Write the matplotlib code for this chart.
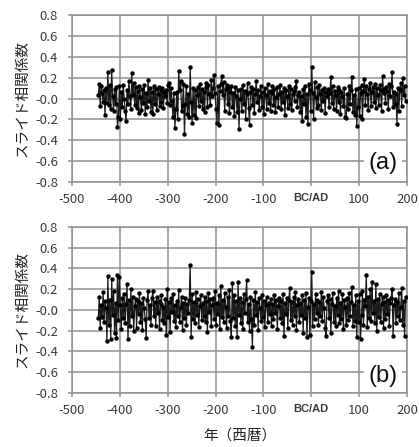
import numpy as np
import matplotlib
matplotlib.use('Agg')
import matplotlib.pyplot as plt

plt.rcParams['font.family'] = ['Noto Sans CJK JP', 'DejaVu Sans']

# 年 (西暦, 2年ごと)
years = np.arange(-445, 198, 2)

# (a) スライド相関係数
corr_a = [
    0.03, 0.14, -0.07, 0.12, 0.05, -0.03, 0.08, -0.16, 0.10, -0.04,
    0.25, -0.06, 0.13, -0.10, 0.27, 0.02, -0.12, 0.09, -0.05, 0.11,
    -0.27, -0.18, 0.12, -0.20, 0.06, -0.08, 0.13, 0.00, -0.12, -0.22,
    0.08, -0.05, 0.17, 0.02, -0.10, 0.24, 0.03, 0.15, -0.06, 0.11,
    -0.09, 0.07, -0.14, 0.12, 0.01, -0.11, 0.09, -0.04, 0.13, -0.15,
    0.05, -0.08, 0.18, -0.02, 0.10, -0.13, 0.06, -0.15, 0.12, -0.05,
    0.09, -0.11, 0.04, 0.11, -0.07, 0.08, -0.03, 0.10, -0.09, 0.06,
    0.02, 0.08, -0.04, 0.13, 0.15, -0.06, 0.10, -0.02, -0.18, 0.05,
    -0.28, -0.10, 0.06, -0.20, 0.26, 0.08, 0.17, -0.12, -0.07, 0.14,
    -0.34, -0.05, 0.12, -0.15, 0.04, -0.18, 0.30, -0.03, -0.23, 0.10,
    -0.16, 0.08, -0.19, 0.03, 0.11, -0.07, 0.14, -0.02, 0.09, -0.10,
    0.06, -0.13, 0.11, 0.15, -0.08, 0.13, 0.04, -0.06, 0.18, 0.02,
    0.10, 0.23, 0.05, -0.10, -0.23, 0.12, -0.25, 0.07, 0.14, 0.22,
    0.03, 0.16, -0.12, 0.09, 0.13, -0.05, 0.10, -0.14, 0.06, 0.12,
    -0.08, 0.05, -0.17, 0.11, 0.02, -0.13, 0.08, -0.29, 0.00, 0.09,
    -0.12, 0.13, -0.05, 0.07, -0.20, 0.04, 0.15, -0.09, -0.25, 0.06,
    0.11, -0.06, 0.09, -0.14, 0.04, 0.17, -0.03, 0.08, -0.11, 0.02,
    0.12, -0.08, 0.06, -0.15, 0.10, 0.03, -0.10, 0.14, -0.04, 0.07,
    -0.12, 0.05, 0.12, -0.06, 0.09, -0.13, 0.01, 0.11, -0.08, 0.04,
    0.13, -0.10, 0.06, -0.03, 0.10, -0.16, 0.08, 0.02, -0.09, 0.12,
    -0.05, 0.09, -0.11, 0.04, 0.07, -0.02, 0.11, 0.17, -0.08, 0.03,
    0.06, -0.13, 0.02, -0.22, 0.09, -0.05, 0.12, -0.18, 0.04, -0.24,
    0.14, 0.08, -0.12, 0.30, 0.05, -0.20, 0.16, 0.01, -0.09, 0.11,
    -0.06, 0.13, 0.04, -0.11, 0.08, -0.02, 0.10, -0.14, 0.06, 0.02,
    0.09, -0.08, 0.05, 0.21, -0.04, 0.12, -0.10, 0.07, 0.03, -0.12,
    0.11, -0.03, 0.08, -0.15, 0.06, 0.02, -0.07, 0.10, -0.18, -0.19,
    0.04, -0.10, 0.12, -0.05, 0.08, 0.21, -0.13, 0.03, -0.16, 0.09,
    -0.26, -0.08, 0.10, -0.17, 0.05, 0.13, -0.20, 0.07, 0.19, -0.06,
    0.12, 0.04, -0.11, 0.09, 0.15, -0.07, 0.06, 0.11, -0.03, 0.14,
    -0.09, 0.10, 0.03, -0.06, 0.13, 0.08, -0.12, 0.22, 0.05, 0.09,
    -0.04, 0.11, 0.07, -0.10, 0.14, 0.02, 0.12, 0.25, -0.08, 0.06,
    -0.05, 0.04, -0.24, 0.10, -0.12, 0.08, 0.15, -0.07, 0.20, 0.03,
    0.12, -0.02,
]

# (b) スライド相関係数
corr_b = [
    -0.08, 0.13, -0.17, 0.05, -0.07, 0.17, -0.12, 0.09, 0.02, -0.30,
    0.33, -0.14, 0.10, -0.28, 0.30, -0.05, 0.18, -0.22, 0.07, -0.27,
    0.34, -0.10, 0.32, 0.05, -0.18, 0.12, -0.08, 0.15, -0.13, 0.06,
    0.25, -0.28, 0.10, -0.15, 0.20, -0.06, 0.13, -0.20, 0.04, 0.11,
    -0.17, 0.09, -0.04, 0.16, -0.12, 0.07, -0.19, 0.12, 0.02, -0.09,
    -0.27, 0.10, 0.18, -0.08, 0.05, -0.14, 0.12, 0.18, -0.06, 0.08,
    -0.15, 0.13, -0.03, 0.09, -0.18, 0.06, 0.14, -0.10, 0.03, -0.13,
    0.11, -0.24, 0.20, -0.07, 0.08, -0.21, 0.12, -0.02, 0.15, -0.11,
    0.05, -0.16, 0.09, -0.06, 0.19, -0.12, 0.03, 0.13, -0.19, 0.07,
    -0.08, 0.12, -0.14, 0.06, -0.03, 0.10, 0.43, -0.26, 0.15, -0.09,
    0.08, -0.13, 0.17, -0.05, 0.11, -0.16, 0.04, 0.14, -0.10, 0.07,
    -0.06, 0.13, -0.12, 0.09, -0.21, 0.16, -0.02, 0.11, -0.15, 0.05,
    0.12, -0.09, 0.18, -0.14, 0.07, -0.04, 0.14, -0.18, 0.23, -0.07,
    0.10, -0.12, 0.16, 0.03, -0.17, 0.13, -0.06, 0.19, -0.11, -0.26,
    0.26, -0.08, 0.14, -0.15, 0.09, -0.26, 0.27, -0.05, 0.12, -0.13,
    0.08, -0.18, 0.15, -0.03, 0.11, 0.29, -0.12, 0.06, -0.20, 0.13,
    -0.09, -0.36, 0.10, -0.14, 0.17, -0.05, 0.08, -0.19, 0.12, 0.02,
    -0.11, 0.14, -0.07, 0.09, -0.16, 0.05, 0.13, -0.12, 0.07, -0.04,
    0.11, -0.15, 0.06, -0.09, 0.14, -0.03, 0.10, -0.18, 0.04, 0.12,
    -0.08, 0.09, -0.13, 0.15, -0.25, 0.07, -0.04, 0.12, -0.17, 0.10,
    0.21, -0.10, 0.08, -0.14, 0.13, -0.06, 0.17, -0.19, 0.05, 0.11,
    -0.12, 0.07, -0.05, 0.14, -0.22, 0.10, -0.08, 0.16, -0.26, 0.03,
    0.12, -0.24, 0.09, 0.37, -0.15, 0.06, -0.09, 0.15, -0.03, 0.10,
    -0.14, 0.08, -0.06, 0.17, -0.11, 0.13, 0.02, -0.17, -0.25, 0.09,
    0.14, -0.08, 0.11, -0.22, 0.06, 0.16, -0.12, 0.04, -0.15, 0.12,
    -0.05, 0.18, -0.13, 0.07, -0.09, 0.15, -0.18, 0.10, 0.03, -0.14,
    0.12, -0.10, 0.16, -0.06, 0.08, 0.22, -0.15, 0.05, -0.11, 0.14,
    -0.26, 0.09, -0.12, 0.15, -0.28, -0.05, 0.18, -0.14, 0.10, 0.04,
    0.34, -0.16, 0.13, -0.08, 0.20, -0.11, 0.27, -0.03, 0.09, -0.13,
    0.25, -0.20, 0.11, -0.07, 0.15, -0.12, 0.06, 0.13, -0.17, 0.08,
    -0.09, 0.14, -0.04, 0.10, -0.15, 0.07, 0.12, 0.20, -0.25, 0.05,
    0.11, -0.13, 0.08, -0.06, 0.16, -0.10, 0.03, 0.21, -0.14, 0.09,
    -0.25, 0.13,
]

xticks = [-500, -400, -300, -200, -100, 0, 100, 200]
xticklabels = ['-500', '-400', '-300', '-200', '-100', 'BC/AD', '100', '200']
yticks = np.arange(-0.8, 0.81, 0.2)
panel_labels = ['(a)', '(b)']

fig = plt.figure(figsize=(4.19, 4.47), dpi=100)
ax_a = fig.add_axes([0.1718, 0.5928, 0.7995, 0.3736])
ax_b = fig.add_axes([0.1718, 0.1208, 0.7995, 0.3714])

gridc = '#909090'
for ax, vals, lab, ly in [(ax_a, corr_a, panel_labels[0], -0.62),
                          (ax_b, corr_b, panel_labels[1], -0.64)]:
    ax.plot(years, vals, '-', color='#1a1a1a', lw=0.9, zorder=3)
    ax.plot(years, vals, 'o', color='black', ms=3.2, mew=0, zorder=4)
    ax.set_xlim(-500, 200)
    ax.set_ylim(-0.8, 0.8)
    ax.set_xticks(xticks)
    ax.set_xticklabels(xticklabels)
    ax.set_yticks(yticks)
    ax.set_yticklabels([f'{v:.1f}' for v in yticks])
    ax.grid(True, color=gridc, lw=1.1)
    ax.set_axisbelow(True)
    for s in ax.spines.values():
        s.set_color(gridc)
        s.set_linewidth(1.1)
    ax.tick_params(colors=gridc, labelcolor='#3a3a3a', labelsize=9.5,
                   length=3, width=1.1)
    ax.tick_params(axis='y', pad=7)
    ax.tick_params(axis='x', pad=5)
    for t in ax.get_xticklabels():
        if t.get_text() == 'BC/AD':
            t.set_fontweight('bold')
            t.set_fontsize(8)
            t.set_family(['Liberation Sans', 'DejaVu Sans'])
    ax.set_ylabel('スライド相関係数', fontsize=10.5, color='#222222', labelpad=4)
    ax.text(150, ly, lab, fontsize=17, color='#111111', ha='center', va='center',
            family=['Liberation Sans', 'DejaVu Sans'],
            zorder=5, bbox=dict(facecolor='white', edgecolor='none', pad=3))

ax_b.set_xlabel('年（西暦）', fontsize=10.5, color='#222222', labelpad=8)

fig.savefig('out.png', dpi=100)
